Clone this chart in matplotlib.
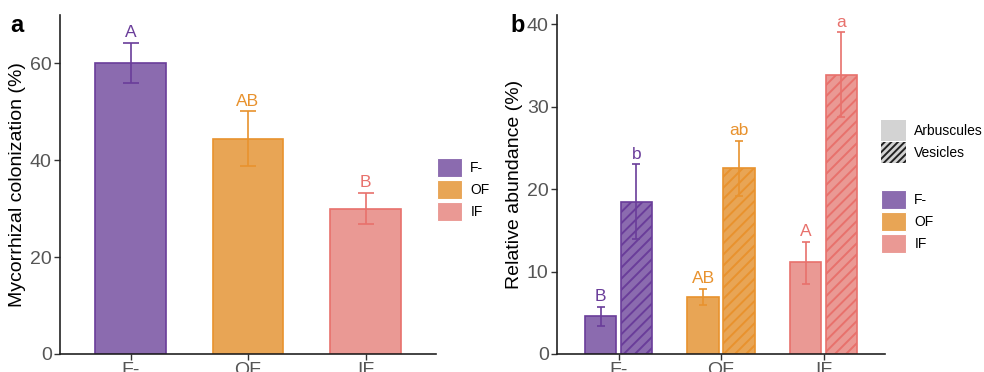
import numpy as np
import matplotlib
matplotlib.use("Agg")
import matplotlib.pyplot as plt
from matplotlib.patches import Patch

plt.rcParams['font.family'] = ['Liberation Sans', 'DejaVu Sans']
plt.rcParams['hatch.linewidth'] = 1.4

# data
groups = ['F-', 'OF', 'IF']
colonization = [60.1, 44.3, 29.9]
colonization_lo = [56.0, 38.8, 26.8]
colonization_hi = [64.3, 50.1, 33.2]
letters_a = ['A', 'AB', 'B']

arbuscules = [4.6, 6.9, 11.1]
arbuscules_lo = [3.4, 5.9, 8.5]
arbuscules_hi = [5.7, 7.9, 13.6]
letters_arb = ['B', 'AB', 'A']

vesicles = [18.4, 22.5, 33.8]
vesicles_lo = [14.0, 19.2, 28.7]
vesicles_hi = [23.0, 25.8, 39.0]
letters_ves = ['b', 'ab', 'a']

fills = ['#8B6BAF', '#E8A555', '#EA9994']
edges = ['#6A3D9A', '#E8922E', '#E8716C']

fig = plt.figure(figsize=(9.84, 3.72), dpi=100)
ax1 = fig.add_axes([60/984, 1-354/372, 376/984, 339/372])
ax2 = fig.add_axes([557/984, 1-354/372, 328/984, 339/372])

def style(ax):
    for s in ['top', 'right']:
        ax.spines[s].set_visible(False)
    for s in ['left', 'bottom']:
        ax.spines[s].set_linewidth(1.2)
        ax.spines[s].set_color('#222222')
    ax.tick_params(axis='both', labelsize=14, colors='#333333', labelcolor='#555555',
                   length=4, width=1, pad=2)

def bars(ax, x, vals, lo, hi, letters, width, hatch=None, cap=5):
    for i in range(len(x)):
        ax.bar(x[i], vals[i], width=width, color=fills[i], edgecolor=edges[i],
               linewidth=1.2, hatch=hatch, zorder=2)
        ax.errorbar(x[i], vals[i], yerr=[[vals[i]-lo[i]], [hi[i]-vals[i]]],
                    color=edges[i], capsize=cap, elinewidth=1.2, capthick=1.2, zorder=3)
        ax.annotate(letters[i], (x[i], hi[i]), xytext=(0, 2), textcoords='offset points',
                    ha='center', va='bottom', fontsize=12.5, color=edges[i])

# panel a
x = np.arange(1, 4)
bars(ax1, x, colonization, colonization_lo, colonization_hi, letters_a, 0.6, cap=6)
ax1.set_xlim(0.4, 3.6)
ax1.set_ylim(0, 70)
ax1.set_yticks([0, 20, 40, 60])
ax1.set_xticks(x)
ax1.set_xticklabels(groups)
ax1.set_ylabel('Mycorrhizal colonization (%)', fontsize=14, labelpad=3)
style(ax1)

# panel b
w = 0.31
d = 0.175
bars(ax2, x - d, arbuscules, arbuscules_lo, arbuscules_hi, letters_arb, w, cap=3)
bars(ax2, x + d, vesicles, vesicles_lo, vesicles_hi, letters_ves, w, hatch='///', cap=3)
ax2.set_xlim(0.4, 3.6)
ax2.set_ylim(0, 41.1)
ax2.set_yticks([0, 10, 20, 30, 40])
ax2.set_xticks(x)
ax2.set_xticklabels(groups)
ax2.set_ylabel('Relative abundance (%)', fontsize=14, labelpad=3)
style(ax2)

fig.text(10/984, 1-25/372, 'a', fontsize=17, fontweight='bold', va='center')
fig.text(510/984, 1-25/372, 'b', fontsize=17, fontweight='bold', va='center')

# legends
fs = 10
color_handles = [Patch(facecolor=fills[i], edgecolor='white', linewidth=0.8) for i in range(3)]
kw = dict(frameon=False, fontsize=fs, handlelength=1.8, handleheight=1.75,
          labelspacing=0.2, handletextpad=0.6, borderpad=0, borderaxespad=0, loc='upper left')
fig.legend(color_handles, groups, bbox_to_anchor=(437/984, 1-158/372), **kw)
fig.legend(color_handles, groups, bbox_to_anchor=(881/984, 1-190/372), **kw)
pattern_handles = [Patch(facecolor='#D3D3D3', edgecolor='none'),
                   Patch(facecolor='#D3D3D3', edgecolor='#222222', linewidth=0, hatch='/////')]
fig.legend(pattern_handles, ['Arbuscules', 'Vesicles'], bbox_to_anchor=(881/984, 1-120/372),
           **dict(kw, handleheight=1.95, labelspacing=0.05))

fig.savefig('out.png', dpi=100)
